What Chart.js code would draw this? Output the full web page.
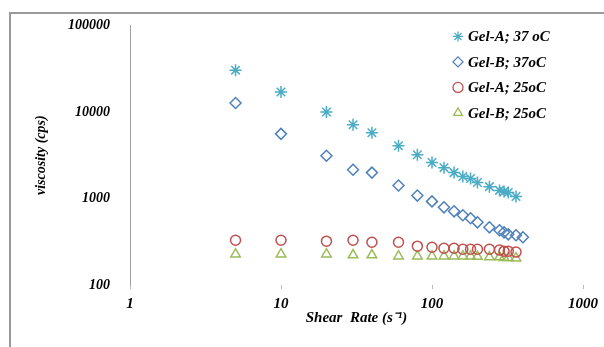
<!DOCTYPE html>
<html>
<head>
<meta charset="utf-8">
<script src="https://cdn.jsdelivr.net/npm/chart.js@4.4.1/dist/chart.umd.min.js"></script>
<style>
  body { margin: 0; background: #fff; overflow: hidden; }
  #wrap { position: relative; width: 604px; height: 347px; overflow: hidden; }
  #frame { position: absolute; left: 9px; top: 12px; width: 700px; height: 400px; border: 2px solid #9a9a9a; }
  canvas { position: absolute; left: 0; top: -3px; }
</style>
</head>
<body>
<div id="wrap">
  <div id="frame"></div>
  <canvas id="viscosityChart" width="604" height="350"></canvas>
</div>
<script>
// Datos de la gráfica
const shearRate = [5, 10, 20, 30, 40, 60, 80, 100, 120, 140, 160, 180, 200, 240, 280, 300, 320, 360, 400];
const gelA37 = [30400, 17000, 10000, 7100, 5740, 4060, 3200, 2600, 2270, 1990, 1790, 1700, 1530, 1370, 1240, 1200, 1170, 1055, null];
const gelB37 = [12700, 5580, 3120, 2150, 1990, 1410, 1080, 925, 790, 710, 640, 590, 530, 464, 429, 406, 385, 376, 356];
const gelA25 = [329, 329, 321, 329, 312, 312, 281, 273, 266, 266, 259, 259, 259, 259, 253, 246, 246, 240, null];
const gelB25 = [227, 227, 227, 222, 222, 215, 215, 215, 215, 215, 215, 215, 213, 210, 210, 207, 207, 204, null];
const seriesLabels = ['Gel-A; 37 oC', 'Gel-B; 37oC', 'Gel-A; 25oC', 'Gel-B; 25oC'];
const xTicks = [1, 10, 100, 1000];
const yTicks = [100, 1000, 10000, 100000];

const fontFamily = "'Liberation Serif', 'Times New Roman', serif";

function toPoints(values) {
    const pts = [];
    values.forEach(function(v, i) {
        if (v !== null) pts.push({ x: shearRate[i], y: v });
    });
    return pts;
}

const seriesStyle = [
    { color: '#4bacc6', pointStyle: 'star', radius: 6 },
    { color: '#4f81bd', pointStyle: 'rectRot', radius: 5.5 },
    { color: '#c0504d', pointStyle: 'circle', radius: 5 },
    { color: '#9bbb59', pointStyle: 'triangle', radius: 5.5 }
];

const allValues = [gelA37, gelB37, gelA25, gelB25];

const datasets = allValues.map(function(vals, i) {
    const s = seriesStyle[i];
    return {
        label: seriesLabels[i],
        data: toPoints(vals),
        showLine: false,
        pointStyle: s.pointStyle,
        pointRadius: s.radius,
        pointHoverRadius: s.radius,
        pointBorderWidth: 1.5,
        borderColor: s.color,
        backgroundColor: 'rgba(0,0,0,0)'
    };
});

// Leyenda dentro del área del gráfico
const insideLegend = {
    id: 'insideLegend',
    afterDraw(chart) {
        const ctx = chart.ctx;
        const area = chart.chartArea;
        ctx.save();
        chart.data.datasets.forEach(function(ds, i) {
            const s = seriesStyle[i];
            const mx = area.right - 125;
            const my = area.top + 11 + i * 25.5;
            ctx.strokeStyle = s.color;
            ctx.fillStyle = 'rgba(0,0,0,0)';
            ctx.lineWidth = 1.3;
            Chart.helpers.drawPoint(ctx, { pointStyle: s.pointStyle, rotation: 0, radius: 5, borderWidth: 1.3 }, mx, my);
            ctx.fillStyle = '#000';
            ctx.font = 'italic bold 15px ' + fontFamily;
            ctx.textAlign = 'left';
            ctx.textBaseline = 'middle';
            ctx.fillText(ds.label, mx + 10, my + 1);
        });
        ctx.restore();
    }
};

new Chart(document.getElementById('viscosityChart'), {
    type: 'scatter',
    data: { datasets: datasets },
    options: {
        responsive: false,
        animation: false,
        layout: { padding: { top: 21, right: 21, left: 0, bottom: 0 } },
        plugins: {
            legend: { display: false },
            tooltip: { enabled: false }
        },
        scales: {
            x: {
                type: 'logarithmic',
                min: 1,
                max: 1000,
                afterBuildTicks: function(scale) {
                    scale.ticks = xTicks.map(function(v) { return { value: v }; });
                },
                afterFit: function(scale) { scale.height = 62; },
                ticks: {
                    color: '#000',
                    padding: 6,
                    maxRotation: 0,
                    font: { family: fontFamily, size: 15, style: 'italic', weight: 'bold' },
                    callback: function(v) { return String(v); }
                },
                grid: { display: true, drawOnChartArea: false, drawTicks: true, tickLength: 4, color: '#bbbbbb' },
                border: { display: false },
                title: {
                    display: true,
                    text: 'Shear  Rate (s\u207B\u00B9)',
                    color: '#000',
                    padding: { top: 0, bottom: 20 },
                    font: { family: fontFamily, size: 15, style: 'italic', weight: 'bold', lineHeight: 1.2 }
                }
            },
            y: {
                type: 'logarithmic',
                min: 100,
                max: 100000,
                afterBuildTicks: function(scale) {
                    scale.ticks = yTicks.map(function(v) { return { value: v }; });
                },
                afterFit: function(scale) { scale.width = 130; },
                ticks: {
                    color: '#000',
                    padding: 20,
                    font: { family: fontFamily, size: 14, style: 'italic', weight: 'bold' },
                    callback: function(v) { return String(v); }
                },
                grid: { display: false, drawTicks: false },
                border: { display: true, color: '#a0a0a0', width: 1 },
                title: {
                    display: true,
                    text: 'viscosity (cps)',
                    color: '#000',
                    padding: { top: 33, bottom: 0 },
                    font: { family: fontFamily, size: 14, style: 'italic', weight: 'bold', lineHeight: 1.2 }
                }
            }
        }
    },
    plugins: [insideLegend]
});
</script>
</body>
</html>
